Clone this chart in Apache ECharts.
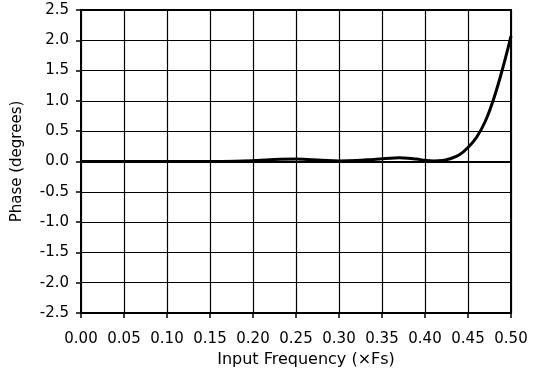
<!DOCTYPE html>
<html>
<head>
<meta charset="utf-8">
<script src="https://cdn.jsdelivr.net/npm/echarts@6/dist/echarts.min.js"></script>
<style>
  html, body { margin: 0; padding: 0; background: #fff; }
  #chart { width: 547px; height: 374px; }
</style>
</head>
<body>
<div id="chart"></div>
<script>
// input frequency (x Fs) and phase (degrees)
const freq = [0, 0.05, 0.10, 0.15, 0.18, 0.20, 0.22, 0.25, 0.28, 0.30, 0.32, 0.34, 0.36, 0.37, 0.38, 0.39,
  0.40, 0.41, 0.42, 0.43, 0.44, 0.45, 0.46, 0.47, 0.48, 0.49, 0.50];
const phase = [0, 0, 0, 0, 0.005, 0.015, 0.03, 0.04, 0.02, 0.01, 0.015, 0.035, 0.055, 0.06, 0.055, 0.04,
  0.02, 0.01, 0.015, 0.05, 0.11, 0.23, 0.40, 0.66, 1.04, 1.52, 2.07];

const font = 'DejaVu Sans';
const chart = echarts.init(document.getElementById('chart'));

chart.setOption({
  animation: false,
  grid: {
    left: 81, right: 36, top: 10, bottom: 61,
    show: true, borderColor: '#000', borderWidth: 2
  },
  xAxis: {
    type: 'value',
    min: 0, max: 0.5, interval: 0.05,
    name: 'Input Frequency (×Fs)',
    nameLocation: 'middle',
    nameGap: 31,
    nameTextStyle: { fontFamily: font, fontSize: 16, color: '#000', padding: [0, 0, 0, 20] },
    axisLine: { show: true, onZero: false, lineStyle: { color: '#000', width: 2 } },
    axisTick: { show: true, length: 5, lineStyle: { color: '#000', width: 1.5 } },
    axisLabel: {
      fontFamily: font, fontSize: 15, color: '#000', margin: 19,
      formatter: v => v.toFixed(2)
    },
    splitLine: { show: true, lineStyle: { color: '#000', width: 1.2 } }
  },
  yAxis: {
    type: 'value',
    min: -2.5, max: 2.5, interval: 0.5,
    name: 'Phase (degrees)',
    nameLocation: 'middle',
    nameGap: 56,
    nameTextStyle: { fontFamily: font, fontSize: 15, color: '#000' },
    axisLine: { show: true, lineStyle: { color: '#000', width: 2 } },
    axisTick: { show: true, length: 5, lineStyle: { color: '#000', width: 1.5 } },
    axisLabel: {
      fontFamily: font, fontSize: 15, color: '#000', margin: 12,
      formatter: v => v.toFixed(1)
    },
    splitLine: { show: true, lineStyle: { color: '#000', width: 1.2 } }
  },
  series: [{
    type: 'line',
    data: freq.map((f, i) => [f, phase[i]]),
    smooth: 0.4,
    showSymbol: false,
    lineStyle: { color: '#000', width: 3 },
    markLine: {
      silent: true,
      symbol: 'none',
      label: { show: false },
      lineStyle: { color: '#000', width: 2, type: 'solid' },
      data: [{ yAxis: 0 }]
    }
  }]
});
</script>
</body>
</html>
